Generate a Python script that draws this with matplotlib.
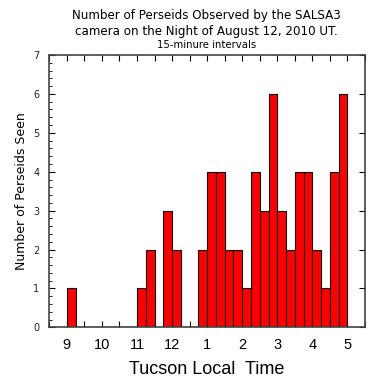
import numpy as np
import matplotlib
matplotlib.use('Agg')
import matplotlib.pyplot as plt

# counts per 15-minute bin, first bin starts 9:00 pm local
first_bin = 9.0
bin_width = 0.25
counts = [1, 0, 0, 0, 0, 0, 0, 0,
          1, 2, 0, 3, 2, 0, 0, 2,
          4, 4, 2, 2, 1, 4, 3, 6,
          3, 2, 4, 4, 2, 1, 4, 6]
hour_ticks = [9, 10, 11, 12, 13, 14, 15, 16, 17]
hour_labels = ['9', '10', '11', '12', '1', '2', '3', '4', '5']

starts = first_bin + bin_width * np.arange(len(counts))

fig = plt.figure(figsize=(3.79, 3.82), dpi=100)
ax = fig.add_axes([0.130, 0.143, 0.833, 0.713])

ax.bar(starts, counts, width=bin_width, align='edge',
       color='#ff0000', edgecolor='black', linewidth=0.8)

ax.set_xlim(8.5, 17.5)
ax.set_ylim(0, 7)

ax.set_xticks(hour_ticks)
ax.set_xticklabels(hour_labels, fontsize=10.5, family='Liberation Sans')
ax.set_xticks(np.arange(8.5, 17.6, 0.5), minor=True)
ax.set_yticks(range(0, 8))
ax.set_yticks(np.arange(0, 7.01, 0.2), minor=True)
ax.tick_params(axis='y', labelsize=7, pad=7, labelcolor='#222222')
ax.tick_params(which='both', direction='in', top=True, right=True)
ax.tick_params(axis='y', which='minor', right=False)
ax.tick_params(which='major', length=4, width=0.8)
ax.tick_params(which='minor', length=2.5, width=0.6)
ax.tick_params(axis='x', which='major', pad=8)
ax.tick_params(axis='x', which='minor', length=4, width=0.8)

for s in ax.spines.values():
    s.set_color('#444444')
    s.set_linewidth(1.2)

ax.set_xlabel('Tucson Local  Time', fontsize=13, family='Liberation Sans', labelpad=6)
ax.set_ylabel('Number of Perseids Seen', fontsize=9, labelpad=4)

fig.text(0.545, 0.960, 'Number of Perseids Observed by the SALSA3', ha='center', va='center', fontsize=8.6)
fig.text(0.545, 0.918, 'camera on the Night of August 12, 2010 UT.', ha='center', va='center', fontsize=8.6)
fig.text(0.545, 0.881, '15-minure intervals', ha='center', va='center', fontsize=7.3)

fig.savefig('out.png', dpi=100)
